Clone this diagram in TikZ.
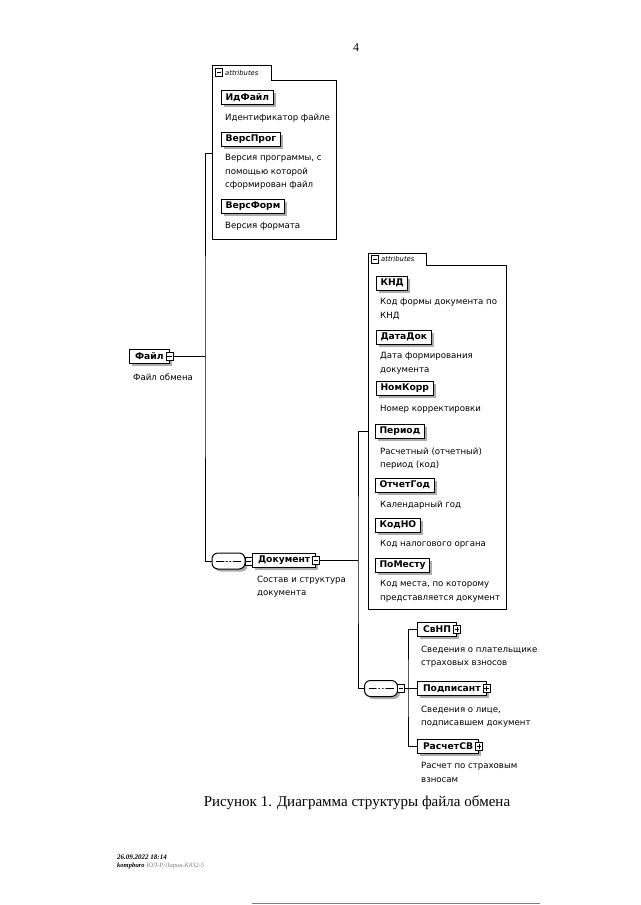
\documentclass[tikz,border=0pt]{standalone}
\usepackage{fontspec}
\setmainfont{Liberation Serif}
\newfontfamily\xsdfont{DejaVu Sans}
\usetikzlibrary{shadows}

\tikzset{
  shade box/.style={drop shadow={shadow xshift=2.5pt,shadow yshift=-2.5pt,fill=gray!65,opacity=1}},
  attr/.style={draw, fill=white, shade box, line width=1pt, anchor=west,
    font=\xsdfont\bfseries\fontsize{9.2}{10}\selectfont,
    inner xsep=4pt, inner ysep=0pt, minimum height=14pt},
  elem/.style={attr, inner xsep=5.5pt},
  desc/.style={font=\xsdfont\fontsize{8.6}{13.3}\selectfont, align=left,
    anchor=north west, inner sep=0pt},
  toggle/.style={draw, fill=white, minimum width=7pt, minimum height=8pt,
    inner sep=0pt, line width=0.6pt},
  minusbox/.style={toggle, path picture={
    \draw ([xshift=1.3pt]path picture bounding box.west) -- ([xshift=-1.3pt]path picture bounding box.east);}},
  plusbox/.style={toggle, path picture={
    \draw ([xshift=1.3pt]path picture bounding box.west) -- ([xshift=-1.3pt]path picture bounding box.east);
    \draw ([yshift=-1.3pt]path picture bounding box.north) -- ([yshift=1.3pt]path picture bounding box.south);}},
  seqbox/.style={draw, fill=white, shade box, rounded corners=6pt, line width=1pt,
    minimum width=33pt, minimum height=16pt, inner sep=0pt, path picture={
    \draw ([xshift=4pt]path picture bounding box.west) -- ([xshift=-4pt]path picture bounding box.east);
    \foreach \d in {-3.5,0,3.5} \fill ([xshift=\d pt]path picture bounding box.center) circle (1.2pt);}},
  group/.style={draw, line width=1pt},
  tabtext/.style={font=\xsdfont\itshape\fontsize{6.8}{7}\selectfont, anchor=west, inner sep=0pt},
  link/.style={line width=1pt},
}

\begin{document}
\begin{tikzpicture}[x=1pt,y=-1pt]
  \useasboundingbox (0,0) rectangle (640,905);

  % page number
  \node[font=\fontsize{12}{14}\selectfont] (pagenum) at (356,48) {4};

  % attributes of the file
  \draw[group] (212,239) -- (212,65) -- (271,65) -- (271,80) -- (336,80) -- (336,239) -- cycle;
  \node[minusbox] (tab1) at (219,72.5) {};
  \node[tabtext] (tab1-text) at (225,72.5) {attributes};
  \coordinate (attrs1) at (212,153);

  \node[attr] (idfajl) at (221,97.5) {ИдФайл};
  \node[desc] (d-idfajl) at (225,113.5) {Идентификатор файле};
  \node[attr] (versprog) at (221,139.5) {ВерсПрог};
  \node[desc] (d-versprog) at (225,154.5) {Версия программы, с\\помощью которой\\сформирован файл};
  \node[attr] (versform) at (221,206.5) {ВерсФорм};
  \node[desc] (d-versform) at (225,222.5) {Версия формата};

  % root element
  \node[elem] (fajl) at (129,356.5) {Файл};
  \node[minusbox] (fajl-t) at (fajl.east) {};
  \node[desc] (d-fajl) at (133,373.5) {Файл обмена};
  \coordinate (trunk1) at (205,356.5);

  % sequence and document
  \node[seqbox] (seq1) at (228.5,561) {};
  \node[minusbox, anchor=west] (seq1-t) at ([xshift=-1pt]seq1.east) {};
  \node[elem] (dok) at (252,560) {Документ};
  \node[minusbox] (dok-t) at (dok.east) {};
  \node[desc] (d-dok) at (257,575.5) {Состав и структура\\документа};
  \coordinate (trunk2) at (358,560);

  \draw[link] (fajl-t.east) -- (trunk1);
  \draw[link] (attrs1) -| (trunk1) |- (seq1.west);
  \draw[link] (seq1-t.east) -- (dok.west);

  % attributes of the document
  \draw[group] (368,609) -- (368,253) -- (426,253) -- (426,265) -- (506,265) -- (506,609) -- cycle;
  \node[minusbox] (tab2) at (375,259) {};
  \node[tabtext] (tab2-text) at (381,259) {attributes};
  \coordinate (attrs2) at (368,431);

  \node[attr] (knd) at (376,283) {КНД};
  \node[desc] (d-knd) at (380,298.5) {Код формы документа по\\КНД};
  \node[attr] (datadok) at (376,337) {ДатаДок};
  \node[desc] (d-datadok) at (380,352.5) {Дата формирования\\документа};
  \node[attr] (nomkorr) at (376,388.5) {НомКорр};
  \node[desc] (d-nomkorr) at (380,405.5) {Номер корректировки};
  \node[attr] (period) at (375,431) {Период};
  \node[desc] (d-period) at (380,447.5) {Расчетный (отчетный)\\период (код)};
  \node[attr] (otchetgod) at (375,485) {ОтчетГод};
  \node[desc] (d-otchetgod) at (380,500.5) {Календарный год};
  \node[attr] (kodno) at (375,525) {КодНО};
  \node[desc] (d-kodno) at (380,540.5) {Код налогового органа};
  \node[attr] (pomestu) at (375,565) {ПоМесту};
  \node[desc] (d-pomestu) at (380,580.5) {Код места, по которому\\представляется документ};

  % sequence of the document
  \node[seqbox] (seq2) at (381,688.5) {};
  \node[minusbox, anchor=west] (seq2-t) at ([xshift=-1pt]seq2.east) {};
  \coordinate (trunk3) at (408,688.5);

  \draw[link] (dok-t.east) -- (trunk2);
  \draw[link] (attrs2) -| (trunk2) |- (seq2.west);
  \draw[link] (seq2-t.east) -- (trunk3);

  \node[elem] (svnp) at (417,629.5) {СвНП};
  \node[plusbox] (svnp-t) at (svnp.east) {};
  \node[desc] (d-svnp) at (421,645.5) {Сведения о плательщике\\страховых взносов};
  \node[elem] (podp) at (417,688.5) {Подписант};
  \node[plusbox] (podp-t) at (podp.east) {};
  \node[desc] (d-podp) at (421,705.5) {Сведения о лице,\\подписавшем документ};
  \node[elem] (raschet) at (417,746.5) {РасчетСВ};
  \node[plusbox] (raschet-t) at (raschet.east) {};
  \node[desc] (d-raschet) at (421,762.5) {Расчет по страховым\\взносам};

  \draw[link] (svnp.west) -| (trunk3) |- (raschet.west);
  \draw[link] (trunk3) -- (podp.west);

  % caption and footer
  \node[font=\fontsize{15}{17}\selectfont] (caption) at (357,803) {Рисунок 1. Диаграмма структуры файла обмена};
  \node[anchor=west, inner sep=0pt, font=\bfseries\itshape\fontsize{7}{8}\selectfont] (stamp) at (117,857) {26.09.2022 18:14};
  \node[anchor=west, inner sep=0pt, font=\itshape\fontsize{6.5}{8}\selectfont] (stamp2) at (117,866) {\textbf{kompburo} \textcolor{gray}{ЮЛ-Р/Ларин-К832-5}};
  \draw[gray, line width=1pt] (252,903) -- (540,903);
\end{tikzpicture}
\end{document}
